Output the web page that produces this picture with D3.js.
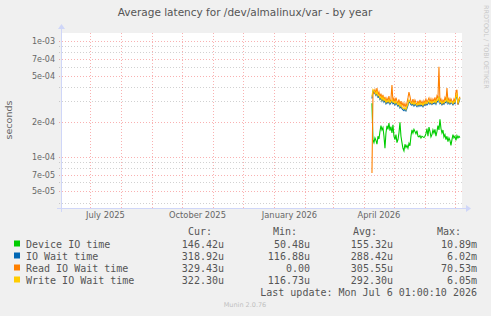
<!DOCTYPE html>
<html>
<head>
<meta charset="utf-8">
<script src="https://cdn.jsdelivr.net/npm/d3@7"></script>
<style>
  body { margin: 0; background: #f0f0f0; }
  svg { display: block; }
</style>
</head>
<body>
<svg id="chart" width="491" height="316"></svg>
<script>
const title = 'Average latency for /dev/almalinux/var - by year'
const yLabel = 'seconds'

// one point per day, first one on this date (UTC)
const firstDay = '2026-04-09'

// values in microseconds
const deviceIO = [290, 140, 132, 145, 138, 128, 150, 142, 165, 185, 170, 178, 150, 118, 160, 185, 172, 195, 168, 182,
  160, 188, 150, 140, 155, 132, 140, 160, 198, 150, 132, 118, 112, 128, 120, 125, 118, 130, 124, 150,
  170, 160, 172, 165, 158, 168, 150, 148, 152, 145, 150, 148, 146, 150, 158, 175, 150, 180, 165, 148,
  155, 170, 160, 172, 150, 165, 185, 170, 210, 175, 160, 170, 148, 155, 140, 150, 135, 145, 138, 125,
  140, 155, 145, 150, 138, 152, 145, 150, 146]
const ioWait = [318, 368, 360, 352, 338, 356, 326, 332, 312, 322, 302, 316, 296, 306, 286, 296, 290, 302, 284, 292,
  302, 286, 292, 280, 292, 282, 272, 284, 264, 272, 260, 254, 250, 257, 248, 262, 278, 302, 292, 282,
  278, 288, 274, 284, 278, 270, 282, 272, 284, 274, 280, 270, 284, 277, 290, 280, 287, 297, 284, 292,
  282, 290, 287, 297, 284, 302, 297, 330, 287, 292, 280, 290, 284, 297, 292, 312, 287, 297, 284, 292,
  290, 280, 292, 287, 322, 336, 282, 297, 319]
const readIOWait = [72, 345, 360, 380, 350, 392, 340, 362, 328, 350, 318, 342, 306, 328, 296, 320, 302, 334, 296, 314,
  415, 298, 318, 294, 324, 302, 288, 312, 280, 302, 276, 292, 270, 288, 266, 292, 322, 362, 332, 300,
  292, 314, 286, 308, 292, 282, 304, 280, 310, 286, 300, 280, 304, 290, 314, 292, 308, 322, 296, 316,
  292, 314, 300, 326, 296, 334, 318, 600, 296, 314, 290, 308, 294, 324, 306, 392, 300, 318, 296, 316,
  302, 290, 314, 298, 362, 378, 282, 314, 329]
const writeIOWait = [330, 380, 370, 360, 345, 370, 335, 340, 320, 330, 310, 325, 305, 315, 295, 305, 298, 310, 292, 300,
  310, 295, 300, 288, 300, 290, 280, 292, 272, 280, 268, 262, 258, 265, 255, 270, 285, 310, 300, 290,
  285, 295, 282, 292, 285, 278, 290, 280, 292, 282, 288, 278, 292, 285, 298, 288, 295, 305, 292, 300,
  290, 298, 295, 305, 292, 310, 305, 330, 295, 300, 288, 298, 292, 305, 300, 320, 295, 305, 292, 300,
  298, 288, 300, 295, 330, 345, 290, 305, 322]

const seriesNames = ['Device IO time', 'IO Wait time', 'Read IO Wait time', 'Write IO Wait time']
const seriesValues = [deviceIO, ioWait, readIOWait, writeIOWait]
const curValues = ['146.42u', '318.92u', '329.43u', '322.30u']
const minValues = ['50.48u', '116.88u', '0.00', '116.73u']
const avgValues = ['155.32u', '288.42u', '305.55u', '292.30u']
const maxValues = ['10.89m', '6.02m', '70.53m', '6.05m']
const lastUpdate = 'Last update: Mon Jul  6 01:00:10 2026'
const version = 'Munin 2.0.76'

const yMajorTicks = [1e-3, 7e-4, 5e-4, 2e-4, 1e-4, 7e-5, 5e-5]
const yTickLabels = ['1e-03', '7e-04', '5e-04', '2e-04', '1e-04', '7e-05', '5e-05']
const yMinorTicks = [9e-4, 8e-4, 6e-4, 4e-4, 3e-4, 9e-5, 8e-5, 6e-5, 4e-5]
const xLabelMonths = ['2025-07-01', '2025-10-01', '2026-01-01', '2026-04-01']

const colors = ['#00cc00', '#0066b3', '#ff8000', '#ffcc00']

const svg = d3.select('#chart')
const plot = { left: 61, right: 462, top: 33, bottom: 208 }

const x = d3.scaleUtc()
  .domain([new Date(Date.UTC(2025, 5, 1, 1, 0, 10)), new Date(Date.UTC(2026, 6, 6, 1, 0, 10))])
  .range([60, 460])
const y = d3.scaleLog()
  .domain([1e-4, 1e-3])
  .range([156.6, 41])

svg.append('rect')
  .attr('width', 491).attr('height', 316)
  .attr('fill', '#f0f0f0')

svg.append('rect')
  .attr('x', plot.left).attr('y', plot.top)
  .attr('width', plot.right - plot.left).attr('height', plot.bottom - plot.top)
  .attr('fill', '#ffffff')

// grid
const minorColor = 'rgba(140,140,140,0.4)'
const majorColor = 'rgba(240,60,60,0.4)'
const grid = svg.append('g').attr('shape-rendering', 'crispEdges')

const minorX = d3.utcWeek.every(2).range(x.domain()[0], x.domain()[1])
  .filter(d => d3.utcSunday.count(new Date(Date.UTC(2025, 5, 8)), d) % 2 === 0)
const majorX = d3.utcMonth.range(x.domain()[0], x.domain()[1])

grid.selectAll('.ygmin').data(yMinorTicks).enter().append('line')
  .attr('x1', plot.left - 2).attr('x2', plot.right + 1)
  .attr('y1', d => Math.round(y(d)) + 0.5).attr('y2', d => Math.round(y(d)) + 0.5)
  .attr('stroke', minorColor).attr('stroke-dasharray', '1,2')

grid.selectAll('.xgmin').data(minorX).enter().append('line')
  .attr('y1', plot.top).attr('y2', plot.bottom + 2)
  .attr('x1', d => Math.round(x(d)) + 0.5).attr('x2', d => Math.round(x(d)) + 0.5)
  .attr('stroke', minorColor).attr('stroke-dasharray', '1,2')

grid.selectAll('.ygmaj').data(yMajorTicks).enter().append('line')
  .attr('x1', plot.left - 2).attr('x2', plot.right + 1)
  .attr('y1', d => Math.round(y(d)) + 0.5).attr('y2', d => Math.round(y(d)) + 0.5)
  .attr('stroke', majorColor).attr('stroke-dasharray', '1,2')

grid.selectAll('.xgmaj').data(majorX).enter().append('line')
  .attr('y1', plot.top).attr('y2', plot.bottom + 2)
  .attr('x1', d => Math.round(x(d)) + 0.5).attr('x2', d => Math.round(x(d)) + 0.5)
  .attr('stroke', majorColor).attr('stroke-dasharray', '1,2')

// y tick labels
svg.append('g').selectAll('text').data(yMajorTicks).enter().append('text')
  .attr('x', 55).attr('y', d => y(d) + 3)
  .attr('text-anchor', 'end')
  .attr('font-family', 'DejaVu Sans').attr('font-size', '8px').attr('fill', '#666')
  .text((d, i) => yTickLabels[i])

// x tick labels, centred on the month
const fmt = d3.utcFormat('%B %Y')
svg.append('g').selectAll('text').data(xLabelMonths.map(s => new Date(s + 'T00:00:00Z'))).enter().append('text')
  .attr('x', d => (x(d) + x(d3.utcMonth.offset(d, 1))) / 2)
  .attr('y', 218)
  .attr('text-anchor', 'middle')
  .attr('font-family', 'DejaVu Sans').attr('font-size', '8.3px').attr('fill', '#666')
  .text(d => fmt(d))

// series
const day0 = new Date(firstDay + 'T00:00:00Z')
const line = d3.line()
  .x((d, i) => x(d3.utcDay.offset(day0, i)))
  .y(d => y(d * 1e-6))

const lines = svg.append('g')
seriesValues.forEach((vals, k) => {
  lines.append('path')
    .attr('d', line(vals))
    .attr('fill', 'none')
    .attr('stroke', colors[k])
    .attr('stroke-width', 1.1)
})

// axes
const axisColor = '#cfd6f8'
svg.append('line')
  .attr('x1', plot.left - 4).attr('x2', plot.right + 4)
  .attr('y1', plot.bottom + 0.5).attr('y2', plot.bottom + 0.5)
  .attr('stroke', axisColor)
svg.append('path')
  .attr('d', `M${plot.right + 4},${plot.bottom - 3} L${plot.right + 9},${plot.bottom + 0.5} L${plot.right + 4},${plot.bottom + 4} Z`)
  .attr('fill', axisColor)
svg.append('line')
  .attr('x1', plot.left + 0.5).attr('x2', plot.left + 0.5)
  .attr('y1', plot.bottom + 4).attr('y2', plot.top - 4)
  .attr('stroke', axisColor)
svg.append('path')
  .attr('d', `M${plot.left - 3},${plot.top - 4} L${plot.left + 0.5},${plot.top - 9} L${plot.left + 4},${plot.top - 4} Z`)
  .attr('fill', axisColor)

// title and labels
svg.append('text')
  .attr('x', 245).attr('y', 16)
  .attr('text-anchor', 'middle')
  .attr('font-family', 'DejaVu Sans').attr('font-size', '10.5px').attr('fill', '#555')
  .text(title)

svg.append('text')
  .attr('transform', 'translate(12,120) rotate(-90)')
  .attr('text-anchor', 'middle')
  .attr('font-family', 'DejaVu Sans').attr('font-size', '9.5px').attr('fill', '#666')
  .text(yLabel)

svg.append('text')
  .attr('transform', 'translate(484,5) rotate(90)')
  .attr('font-family', 'DejaVu Sans').attr('font-size', '6.5px').attr('fill', '#c8c8c8')
  .text('RRDTOOL / TOBI OETIKER')

// legend
const mono = 'DejaVu Sans Mono'
const legend = svg.append('g').attr('font-family', mono).attr('font-size', '10px').attr('fill', '#555')
  .style('white-space', 'pre')
const headers = [['Cur:', 188], ['Min:', 273], ['Avg:', 353], ['Max:', 437]]
headers.forEach(h => {
  legend.append('text').attr('x', h[1]).attr('y', 235).text(h[0])
})
const cols = [[curValues, 224], [minValues, 310], [avgValues, 393], [maxValues, 477]]
seriesNames.forEach((name, i) => {
  const yy = 247.5 + i * 12
  legend.append('rect')
    .attr('x', 14).attr('y', yy - 7).attr('width', 6).attr('height', 6)
    .attr('fill', colors[i])
  legend.append('text').attr('x', 26).attr('y', yy).text(name)
  cols.forEach(c => {
    legend.append('text').attr('x', c[1]).attr('y', yy).attr('text-anchor', 'end').text(c[0][i])
  })
})
legend.append('text').attr('x', 477).attr('y', 296).attr('text-anchor', 'end').text(lastUpdate)

svg.append('text')
  .attr('x', 245).attr('y', 307)
  .attr('text-anchor', 'middle')
  .attr('font-family', 'DejaVu Sans').attr('font-size', '6.5px').attr('fill', '#c0c0c0')
  .text(version)
</script>
</body>
</html>
